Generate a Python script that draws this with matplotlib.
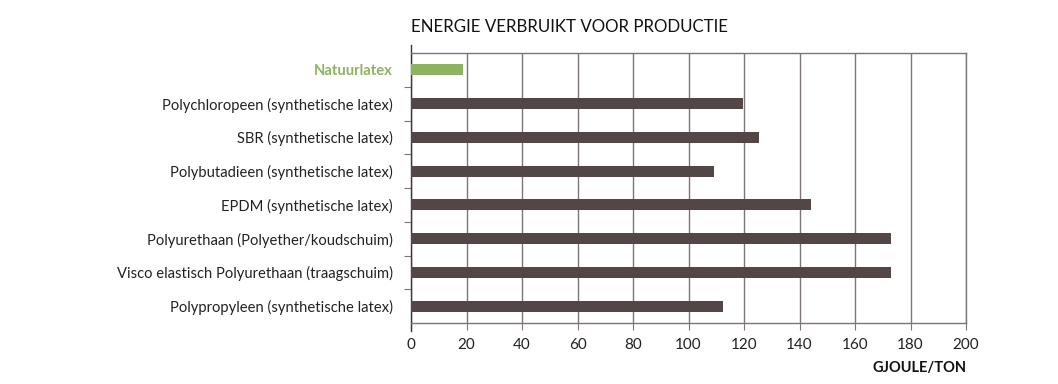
import matplotlib
matplotlib.use("Agg")
import matplotlib.pyplot as plt

categories = [
    "Natuurlatex",
    "Polychloropeen (synthetische latex)",
    "SBR (synthetische latex)",
    "Polybutadieen (synthetische latex)",
    "EPDM (synthetische latex)",
    "Polyurethaan (Polyether/koudschuim)",
    "Visco elastisch Polyurethaan (traagschuim)",
    "Polypropyleen (synthetische latex)",
]
values = [18.7, 119.6, 125.4, 109.2, 144.2, 173.1, 173.1, 112.6]
xticks = [0, 20, 40, 60, 80, 100, 120, 140, 160, 180, 200]

plt.rcParams['font.family'] = ['Lato', 'DejaVu Sans']

W, H = 1058, 384
fig = plt.figure(figsize=(W / 100, H / 100), dpi=100)
ax = fig.add_axes([411 / W, 1 - 323 / H, (966 - 411) / W, (323 - 53) / H])

dark = "#534647"
green = "#8db360"
grid = "#7d7474"
colors = [green] + [dark] * (len(categories) - 1)

n = len(categories)
ypos = list(range(n))
ax.barh(ypos, values, height=0.33, color=colors, zorder=3)
ax.set_ylim(n - 0.5, -0.5)
ax.set_xlim(0, 200)

ax.set_xticks(xticks)
ax.set_xticklabels([str(t) for t in xticks], fontsize=11, color="#222222")
ax.tick_params(axis='x', length=5, color=grid, pad=6)
ax.xaxis.grid(True, color=grid, linewidth=1, zorder=0)

# y tick marks at category boundaries, labels at centres
ax.set_yticks([i + 0.5 for i in range(n - 1)])
ax.set_yticklabels([])
ax.tick_params(axis='y', which='major', length=5, color=grid)
ax.set_yticks(ypos, minor=True)
ax.set_yticklabels(categories, minor=True, fontsize=10.6, color="#222222")
ax.tick_params(axis='y', which='minor', length=0, pad=13)
lbl = ax.get_yticklabels(minor=True)[0]
lbl.set_color(green)
lbl.set_fontweight('bold')

for s in ['top', 'right', 'bottom']:
    ax.spines[s].set_color(grid)
    ax.spines[s].set_linewidth(1)
ax.spines['left'].set_color("#3d3435")
ax.spines['left'].set_linewidth(1)
ax.spines['left'].set_bounds(n - 0.5 + 0.25, -0.5 - 0.25)

ax.text(0, 1.0 + 26 / 270, "ENERGIE VERBRUIKT VOOR PRODUCTIE", transform=ax.transAxes,
        fontsize=12.2, color="#111111", ha='left', va='center')
ax.text(1.0, -45 / 270, "GJOULE/TON", transform=ax.transAxes,
        fontsize=10.5, fontweight='bold', color="#111111", ha='right', va='center')

fig.savefig("out.png", dpi=100)
